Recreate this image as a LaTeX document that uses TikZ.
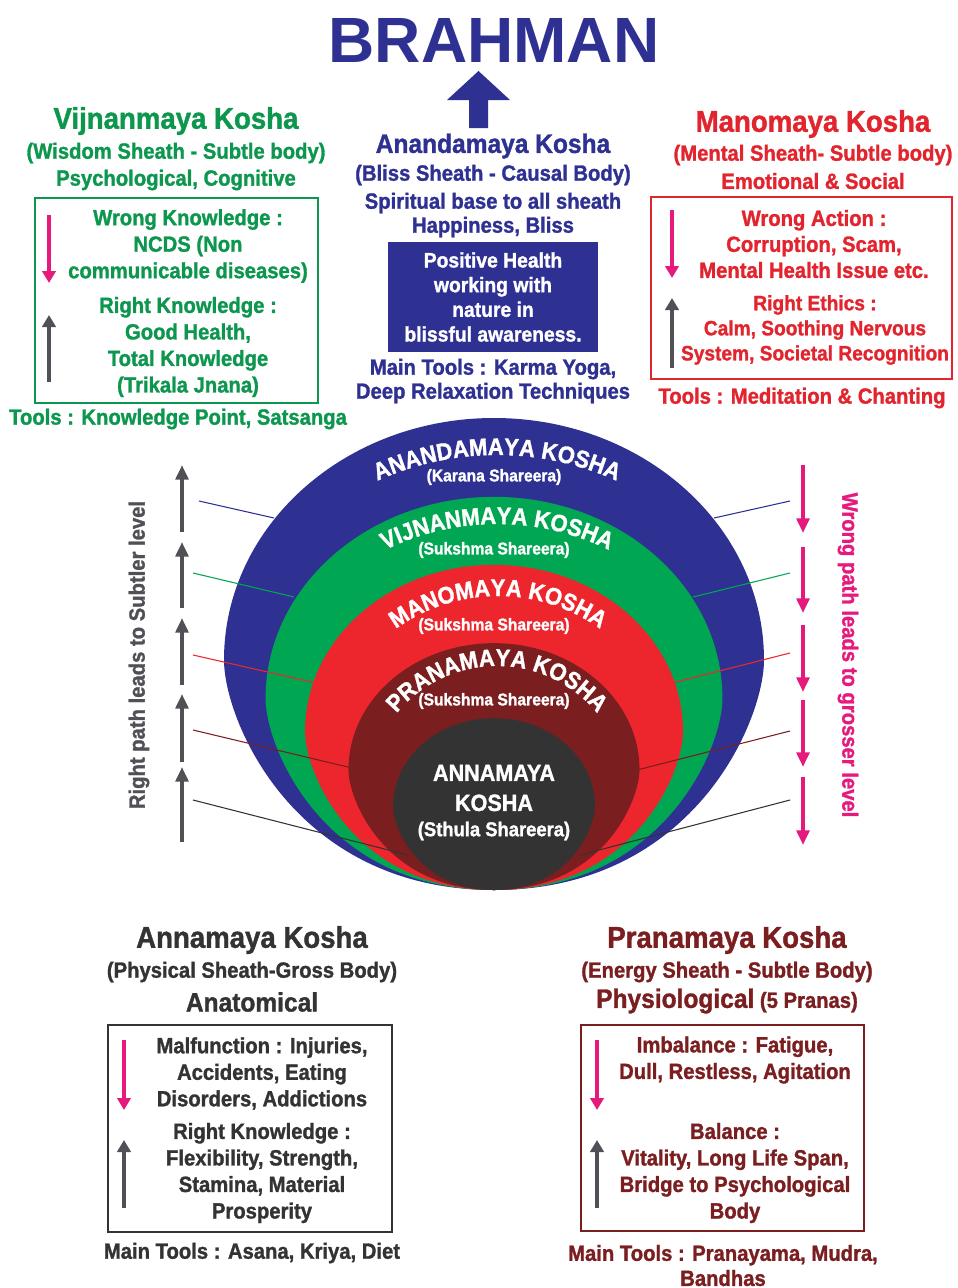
\documentclass[tikz,border=0pt]{standalone}
\usepackage{fontspec}
\setmainfont{Liberation Sans}
\newfontfamily\kfont{Liberation Sans}[UprightFont={* Bold}, BoldFont={* Bold}, FakeStretch=0.92, FakeBold=1.3]
\usetikzlibrary{arrows.meta, calc, decorations.text}

\definecolor{kblue}{RGB}{46,49,146}
\definecolor{kgreen}{RGB}{0,166,81}
\definecolor{kgreentxt}{RGB}{12,150,78}
\definecolor{kred}{RGB}{237,38,45}
\definecolor{kredtxt}{RGB}{226,36,46}
\definecolor{kmaroon}{RGB}{122,30,32}
\definecolor{kdark}{RGB}{51,51,51}
\definecolor{kgray}{RGB}{80,80,86}
\definecolor{kpink}{RGB}{230,25,125}
\newcommand{\kfs}[2]{\fontsize{#1}{#2}\selectfont}

\begin{document}
\begin{tikzpicture}[x=0.75pt, y=0.75pt,
    every node/.style={inner sep=0pt, align=center, font=\kfont\kfs{16.5}{19.9}},
    kname/.style={font=\kfont\kfs{22.5}{27}},
    panel/.style={line width=1.9pt},
    wrongarr/.style={kpink, line width=2.6pt, -{Triangle[width=10pt, length=9pt]}},
    rightarr/.style={kgray, line width=2.6pt, -{Triangle[width=10pt, length=9pt]}},
    pathway/.style={line width=3pt, -{Triangle[width=9.5pt, length=11pt]}},
    leader/.style={line width=0.8pt},
    sheath/.style={decorate, decoration={text along path, text align=center,
        text={|\kfont\kfs{18}{18}\color{white}|#1}}},
    shareera/.style={text=white, font=\kfont\kfs{12.75}{15}}]
  \useasboundingbox (0,0) rectangle (957,-1288);

  % title
  \node[font=\bfseries\kfs{48}{48}, text=kblue] (brahman) at (494,-40) {BRAHMAN};
  \fill[kblue] (469,-128) -- (469,-100) -- (447,-100) -- (478.5,-71) -- (510,-100) -- (488,-100) -- (488,-128) -- cycle;

  % anandamaya (centre)
  \node[font=\kfont\kfs{20}{24}, text=kblue] (anandaT) at (493,-146) {Anandamaya Kosha};
  \node[text=kblue] (anandaS) at (493,-175) {(Bliss Sheath - Causal Body)};
  \node[text=kblue, font=\kfont\kfs{16.5}{18}] (anandaD) at (493,-215) {Spiritual base to all sheath\\Happiness, Bliss};
  \node[fill=kblue, text=white, minimum width=157.5pt, minimum height=82.5pt,
        font=\kfont\kfs{15.75}{18.5}] (bliss) at (493,-297) {Positive Health\\working with\\nature in\\blissful awareness.};
  \node[text=kblue, font=\kfont\kfs{16.5}{18}] (anandaM) at (493,-381) {Main Tools : Karma Yoga,\\Deep Relaxation Techniques};

  % vijnanmaya (left)
  \node[kname, text=kgreentxt] (vijT) at (176,-121) {Vijnanmaya Kosha};
  \node[text=kgreentxt] (vijS) at (176,-153) {(Wisdom Sheath - Subtle body)};
  \node[text=kgreentxt] (vijD) at (176,-180) {Psychological, Cognitive};
  \draw[panel, kgreentxt] (35,-198) rectangle (318,-403);
  \draw[wrongarr] (49,-215) -- (49,-283);
  \draw[rightarr] (49,-382) -- (49,-315);
  \node[text=kgreentxt] (vijW) at (188,-246) {Wrong Knowledge :\\NCDS (Non\\communicable diseases)};
  \node[text=kgreentxt] (vijR) at (188,-347) {Right Knowledge :\\Good Health,\\Total Knowledge\\(Trikala Jnana)};
  \node[text=kgreentxt] (vijM) at (178,-419) {Tools : Knowledge Point, Satsanga};

  % manomaya (right)
  \node[kname, text=kredtxt] (manT) at (813,-124) {Manomaya Kosha};
  \node[text=kredtxt] (manS) at (813,-155) {(Mental Sheath- Subtle body)};
  \node[text=kredtxt] (manD) at (813,-181) {Emotional \& Social};
  \draw[panel, kredtxt] (651,-197) rectangle (952,-379);
  \draw[wrongarr] (672,-210) -- (672,-278);
  \draw[rightarr] (672,-368) -- (672,-298);
  \node[text=kredtxt, font=\kfont\kfs{16.5}{19.5}] (manW) at (814,-244) {Wrong Action :\\Corruption, Scam,\\Mental Health Issue etc.};
  \node[text=kredtxt, font=\kfont\kfs{15.6}{18.8}] (manR) at (815,-330) {Right Ethics :\\Calm, Soothing Nervous\\System, Societal Recognition};
  \node[text=kredtxt] (manM) at (802,-398) {Tools : Meditation \& Chanting};

  % the five sheaths
  \foreach \c/\xs/\ys in {kblue/1/1, kgreen/0.846/0.833, kred/0.70/0.689, kmaroon/0.539/0.523, kdark/0.374/0.364}
    \fill[\c, shift={(494,-890)}, xscale=\xs, yscale=\ys]
      (0,0) .. controls (-200,0) and (-270,170) .. (-270,230)
      .. controls (-270,364) and (-149,472) .. (0,472)
      .. controls (149,472) and (270,364) .. (270,230)
      .. controls (270,170) and (200,0) .. (0,0) -- cycle;

  \foreach \n/\c/\lx/\ly/\ex/\ey in {anl/kblue/199/501/274/518, vil/kgreen/193/573/294/597,
      mal/kred/193/655/316/683, prl/kmaroon/193/730/352/768, aml/kdark/193/800/408/855,
      anr/kblue/790/501/714/518, vir/kgreen/790/573/693/597, mar/kred/790/653/672/683,
      prr/kmaroon/790/731/637/770, amr/kdark/790/800/580/855}
  {
    \coordinate (s\n) at (\lx,-\ly);
    \coordinate (e\n) at (\ex,-\ey);
    \draw[leader, \c] (s\n) -- (e\n);
  }

  \path[sheath={ANANDAMAYA KOSHA}] (497,-745) ++(125:290) arc[start angle=125, end angle=55, radius=290];
  \path[sheath={VIJNANMAYA KOSHA}] (497,-778) ++(130:254) arc[start angle=130, end angle=50, radius=254];
  \path[sheath={MANOMAYA KOSHA}] (498,-771) ++(140:175) arc[start angle=140, end angle=40, radius=175];
  \path[sheath={PRANAMAYA KOSHA}] (497,-796) ++(150:130) arc[start angle=150, end angle=30, radius=130];
  \node[shareera] (karana) at (494,-477) {(Karana Shareera)};
  \node[shareera] (sukV) at (494,-550) {(Sukshma Shareera)};
  \node[shareera] (sukM) at (494,-626) {(Sukshma Shareera)};
  \node[shareera] (sukP) at (494,-701) {(Sukshma Shareera)};
  \node[text=white, font=\kfont\kfs{17.6}{22.5}] (annaC) at (494,-788) {ANNAMAYA\\KOSHA};
  \node[text=white, font=\kfont\kfs{15}{18}] (sthula) at (494,-831) {(Sthula Shareera)};

  % paths up and down
  \foreach \a/\b in {532/465, 608/542, 685/618, 762/694, 842/767}
    \draw[pathway, kgray] (182,-\a) -- (182,-\b);
  \foreach \a/\b in {465/533, 547/613, 625/692, 700/767, 777/845}
    \draw[pathway, kpink] (803,-\a) -- (803,-\b);
  \node[rotate=90, text=kgray] (rightpath) at (139,-655) {Right path leads to Subtler level};
  \node[rotate=-90, text=kpink] (wrongpath) at (848,-655) {Wrong path leads to grosser level};

  % annamaya (bottom left)
  \node[kname, text=kdark] (annT) at (252,-940) {Annamaya Kosha};
  \node[text=kdark] (annS) at (252,-972) {(Physical Sheath-Gross Body)};
  \node[text=kdark, font=\kfont\kfs{20}{24}] (annD) at (252,-1002) {Anatomical};
  \draw[panel, kdark] (108,-1025) rectangle (392,-1232);
  \draw[wrongarr] (124,-1040) -- (124,-1110);
  \draw[rightarr] (124,-1208) -- (124,-1140);
  \node[text=kdark] (annW) at (262,-1073.5) {Malfunction : Injuries,\\Accidents, Eating\\Disorders, Addictions};
  \node[text=kdark] (annR) at (262,-1173) {Right Knowledge :\\Flexibility, Strength,\\Stamina, Material\\Prosperity};
  \node[text=kdark] (annM) at (252,-1253) {Main Tools : Asana, Kriya, Diet};

  % pranamaya (bottom right)
  \node[kname, text=kmaroon] (praT) at (727,-940) {Pranamaya Kosha};
  \node[text=kmaroon] (praS) at (727,-972) {(Energy Sheath - Subtle Body)};
  \node[text=kmaroon] (praD) at (727,-1001) {{\kfs{20}{24}Physiological} (5 Pranas)};
  \draw[panel, kmaroon] (581,-1025) rectangle (864,-1231);
  \draw[wrongarr] (597,-1040) -- (597,-1110);
  \draw[rightarr] (597,-1208) -- (597,-1140);
  \node[text=kmaroon] (praW) at (735,-1060) {Imbalance : Fatigue,\\Dull, Restless, Agitation};
  \node[text=kmaroon] (praR) at (735,-1173) {Balance :\\Vitality, Long Life Span,\\Bridge to Psychological\\Body};
  \node[text=kmaroon, font=\kfont\kfs{16.5}{18.8}] (praM) at (723,-1265.5) {Main Tools : Pranayama, Mudra,\\Bandhas};
\end{tikzpicture}
\end{document}
